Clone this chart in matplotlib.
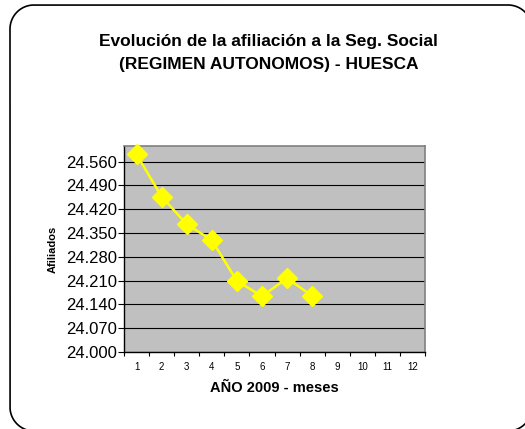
import numpy as np
import matplotlib
matplotlib.use("Agg")
import matplotlib.pyplot as plt
from matplotlib.lines import Line2D
from matplotlib.ticker import FuncFormatter

plt.rcParams['font.family'] = ['Liberation Sans', 'DejaVu Sans']
plt.rcParams['savefig.bbox'] = 'standard'

# datos
meses = list(range(1, 13))
mes_datos = [1, 2, 3, 4, 5, 6, 7, 8]
afiliados = [24581, 24457, 24376, 24329, 24209, 24164, 24217, 24165]
ticks_y = [24000, 24070, 24140, 24210, 24280, 24350, 24420, 24490, 24560]
titulo = "Evolución de la afiliación a la Seg. Social\n(REGIMEN AUTONOMOS) - HUESCA"

W, H = 525, 429
fig = plt.figure(figsize=(W / 100, H / 100), dpi=100)
fig.patch.set_facecolor('white')


def marco_redondeado(x0, y0, x1, y1, r):
    # contorno de rectangulo con esquinas redondeadas (pixeles -> fraccion de figura)
    t = np.linspace(0, np.pi / 2, 40)
    xs, ys = [], []
    for cx, cy, a in [(x1 - r, y1 - r, 0), (x0 + r, y1 - r, np.pi / 2),
                      (x0 + r, y0 + r, np.pi), (x1 - r, y0 + r, 1.5 * np.pi)]:
        xs += list(cx + r * np.cos(t + a))
        ys += list(cy + r * np.sin(t + a))
    xs.append(xs[0])
    ys.append(ys[0])
    return np.array(xs) / W, np.array(ys) / H


# el marco sale un poco de la imagen por la derecha y por abajo
mx, my = marco_redondeado(10, H - 431, 532, H - 5, 24)
borde = Line2D(mx, my, transform=fig.transFigure, color='black', linewidth=1.2)
borde.set_clip_box(fig.bbox)
fig.add_artist(borde)

ax = fig.add_axes([124 / W, 1 - 352 / H, 301 / W, 206 / H])
ax.set_facecolor('#C0C0C0')
ax.set_xlim(0.5, 12.5)
ax.set_ylim(24000, 24606)

ax.set_yticks(ticks_y)
ax.yaxis.set_major_formatter(FuncFormatter(lambda v, p: f"{v:,.0f}".replace(',', '.')))
ax.grid(axis='y', color='black', linewidth=0.8)
ax.set_axisbelow(True)

ax.set_xticks(meses)
ax.set_xticks(np.arange(0.5, 13, 1), minor=True)
ax.tick_params(axis='x', which='major', length=0, labelsize=7, pad=7)
ax.tick_params(axis='x', which='minor', length=3, direction='out', width=0.8)
ax.tick_params(axis='y', length=4, width=0.8, labelsize=12, pad=1)

for s in ['top', 'right']:
    ax.spines[s].set_color('#808080')
    ax.spines[s].set_linewidth(1.2)
for s in ['left', 'bottom']:
    ax.spines[s].set_color('black')
    ax.spines[s].set_linewidth(1)

ax.plot(mes_datos, afiliados, color='#FFFF00', linewidth=1.8, marker='D',
        markersize=10, clip_on=False, zorder=5)

ax.set_xlabel("AÑO 2009 - meses", fontsize=10.5, fontweight='bold', labelpad=7)
ax.set_ylabel("Afiliados", fontsize=8, fontweight='bold', labelpad=6)

fig.text(0.511, 1 - 53 / H, titulo, ha='center', va='center', fontsize=12.5,
         fontweight='bold', linespacing=1.6)

fig.savefig("out.png", dpi=100, bbox_inches=None)
